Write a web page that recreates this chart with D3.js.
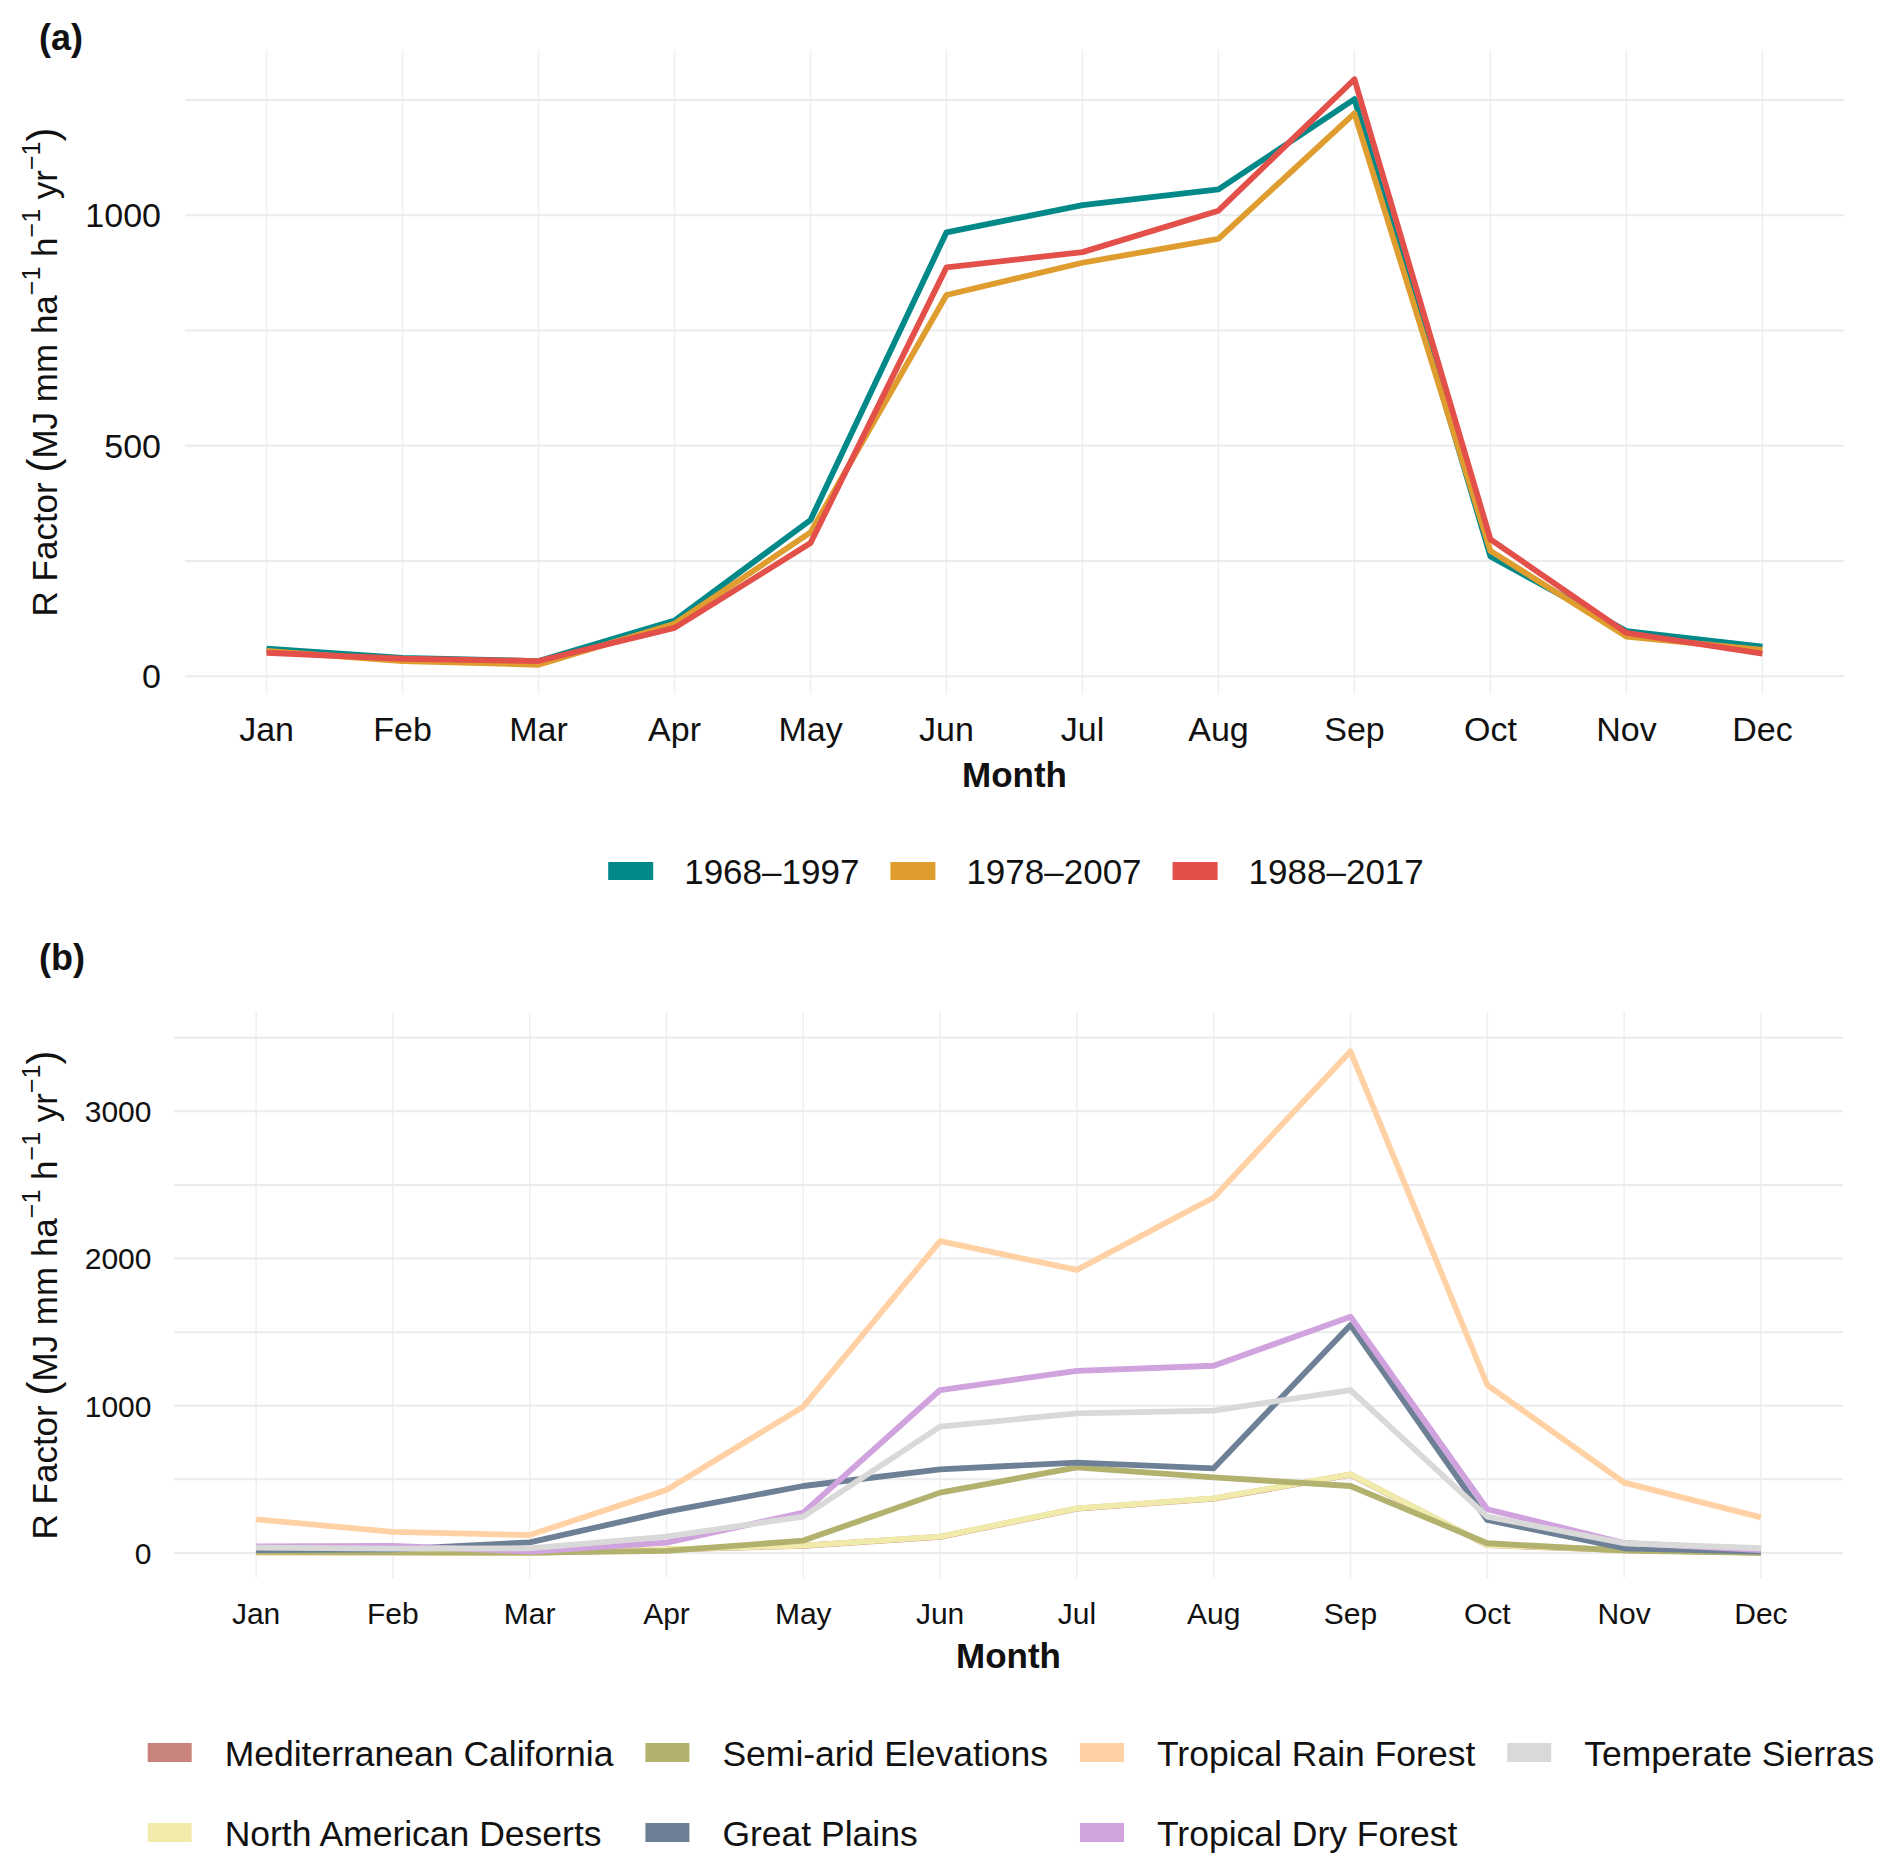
<!DOCTYPE html>
<html><head><meta charset="utf-8">
<script src="https://cdn.jsdelivr.net/npm/d3@7"></script>
<style>
html,body{margin:0;padding:0;background:#fff}
svg{display:block}
text{font-family:"Liberation Sans",Arial,Helvetica,sans-serif;fill:#111}
</style>
</head><body>
<svg id="chart" width="1892" height="1873"></svg>
<script>
// ---------- data ----------
const months = ["Jan","Feb","Mar","Apr","May","Jun","Jul","Aug","Sep","Oct","Nov","Dec"];

// panel (a): 30-year periods
const periods = ["1968–1997","1978–2007","1988–2017"];
const r1968_1997 = [60, 40, 33, 121, 339, 963, 1022, 1056, 1252, 260, 98, 64];
const r1978_2007 = [55, 33, 25, 114, 312, 827, 897, 949, 1221, 272, 86, 57];
const r1988_2017 = [51, 38, 33, 105, 289, 887, 920, 1010, 1295, 297, 94, 49];
const periodColors = ["#01898A", "#DF9D2F", "#E3504A"];
const yTicksA = [0, 500, 1000];
const yGridA = [0, 250, 500, 750, 1000, 1250];
const yLimitsA = [-38.5, 1358.5];

// panel (b): ecoregions (factor / drawing order)
const regions = ["Mediterranean California","North American Deserts","Semi-arid Elevations","Great Plains","Tropical Rain Forest","Tropical Dry Forest","Temperate Sierras"];
const medCalifornia   = [4, 3, 1, 23, 49, 109, 301, 369, 532, 53, 19, 2];
const naDeserts       = [2, 2, 0, 25, 50, 111, 303, 371, 534, 54, 20, 2];
const semiAridElev    = [7, 6, 2, 14, 84, 410, 582, 514, 455, 66, 16, 0];
const greatPlains     = [20, 25, 72, 281, 455, 568, 614, 575, 1548, 224, 32, 9];
const tropRainForest  = [229, 143, 122, 428, 994, 2118, 1923, 2415, 3408, 1141, 478, 242];
const tropDryForest   = [45, 48, 10, 70, 274, 1107, 1237, 1272, 1605, 297, 68, 20];
const tempSierras     = [36, 29, 32, 111, 247, 858, 949, 967, 1107, 247, 66, 32];
const regionColors = ["#C8837D","#F0EBAA","#B2B26E","#6D8096","#FFD1A4","#D0A2DE","#D9D9D9"];
const yTicksB = [0, 1000, 2000, 3000];
const yGridB = [0, 500, 1000, 1500, 2000, 2500, 3000, 3500];
const yLimitsB = [-170, 3675];

const seriesA = [r1968_1997, r1978_2007, r1988_2017];
const seriesB = [medCalifornia, naDeserts, semiAridElev, greatPlains, tropRainForest, tropDryForest, tempSierras];

// ---------- drawing ----------
const svg = d3.select("#chart");
svg.append("rect").attr("width",1892).attr("height",1873).attr("fill","#fff");

function yTitle(cx, cy){
  const t = svg.append("text")
    .attr("transform",`translate(${cx},${cy}) rotate(-90)`)
    .attr("text-anchor","middle").style("font-size","35px");
  t.append("tspan").text("R Factor ");
  t.append("tspan").style("font-size","42px").text("(");
  t.append("tspan").text("MJ mm ha");
  t.append("tspan").attr("dy",-17).style("font-size","25px").text("−1");
  t.append("tspan").attr("dy",17).text(" h");
  t.append("tspan").attr("dy",-17).style("font-size","25px").text("−1");
  t.append("tspan").attr("dy",17).text(" yr");
  t.append("tspan").attr("dy",-17).style("font-size","25px").text("−1");
  t.append("tspan").attr("dy",17).style("font-size","42px").text(")");
}

function panel(o){
  const x = d3.scalePoint().domain(months).range([o.left, o.right]).padding(0.6);
  const y = d3.scaleLinear().domain(o.yLimits).range([o.bottom, o.top]);
  const g = svg.append("g");
  // grid
  g.selectAll(".vg").data(months).join("line")
    .attr("x1",d=>x(d)).attr("x2",d=>x(d)).attr("y1",o.top).attr("y2",o.bottom)
    .attr("stroke","#EFEFEF").attr("stroke-width",1.5);
  g.selectAll(".hg").data(o.yGrid).join("line")
    .attr("x1",o.left).attr("x2",o.right).attr("y1",d=>y(d)).attr("y2",d=>y(d))
    .attr("stroke","#EBEBEB").attr("stroke-width",2);
  // lines
  const line = d3.line().x((d,i)=>x(months[i])).y(d=>y(d));
  g.selectAll(".ln").data(o.series).join("path")
    .attr("d",d=>line(d)).attr("fill","none")
    .attr("stroke",(d,i)=>o.colors[i]).attr("stroke-width",5.8)
    .attr("stroke-linejoin","round").attr("stroke-linecap","butt");
  // y tick labels
  g.selectAll(".yt").data(o.yTicks).join("text")
    .attr("x",o.yLabelRight).attr("y",d=>y(d)+0.358*o.tickFont)
    .attr("text-anchor","end").style("font-size",o.tickFont+"px").text(d=>d);
  // x tick labels
  g.selectAll(".xt").data(months).join("text")
    .attr("x",d=>x(d)).attr("y",o.xLabelBase)
    .attr("text-anchor","middle").style("font-size",o.tickFont+"px").text(d=>d);
  // x title
  g.append("text").attr("x",(o.left+o.right)/2).attr("y",o.xTitleBase)
    .attr("text-anchor","middle").style("font-size","35px").style("font-weight","bold").text("Month");
  // panel tag
  g.append("text").attr("x",39).attr("y",o.tagBase).style("font-size","36px")
    .style("font-weight","bold").text(o.tag);
  yTitle(57, (o.top+o.bottom)/2);
}

panel({left:185,right:1844,top:50,bottom:694,yLimits:yLimitsA,yGrid:yGridA,yTicks:yTicksA,
  series:seriesA,colors:periodColors,tickFont:34,yLabelRight:161,xLabelBase:741,xTitleBase:787,tag:"(a)",tagBase:50});
panel({left:174,right:1843,top:1012,bottom:1578,yLimits:yLimitsB,yGrid:yGridB,yTicks:yTicksB,
  series:seriesB,colors:regionColors,tickFont:30,yLabelRight:151.5,xLabelBase:1624,xTitleBase:1668,tag:"(b)",tagBase:970});

// legend (a): single row
(function(){
  const g = svg.append("g");
  const keyW=45, keyH=18, gap1=31, gap2=31, fs=35;
  const items = periods.map((p,i)=>({label:p,color:periodColors[i]}));
  const tmp = g.append("text").style("font-size",fs+"px");
  items.forEach(it=>{ tmp.text(it.label); it.w = tmp.node().getComputedTextLength(); });
  tmp.remove();
  const total = d3.sum(items,d=>keyW+gap1+d.w) + gap2*(items.length-1);
  let xx = 1016 - total/2;
  items.forEach(it=>{
    g.append("rect").attr("x",xx).attr("y",862).attr("width",keyW).attr("height",keyH).attr("fill",it.color);
    g.append("text").attr("x",xx+keyW+gap1).attr("y",884).style("font-size",fs+"px").text(it.label);
    xx += keyW+gap1+it.w+gap2;
  });
})();

// legend (b): 2 rows, filled by column
(function(){
  const g = svg.append("g");
  const keyW=44, keyH=19, gap1=33, gap2=32, fs=35.5;
  const rowKeyY=[1743,1823], rowBase=[1766,1846];
  const tmp = g.append("text").style("font-size",fs+"px");
  const widths = regions.map(r=>{ tmp.text(r); return tmp.node().getComputedTextLength(); });
  tmp.remove();
  const nCol = Math.ceil(regions.length/2);
  const colW = d3.range(nCol).map(c=>d3.max([widths[2*c], widths[2*c+1]||0]));
  const total = d3.sum(colW,w=>keyW+gap1+w) + gap2*(nCol-1);
  let xx = 1011 - total/2;
  d3.range(nCol).forEach(c=>{
    [0,1].forEach(r=>{
      const k = 2*c+r; if(k>=regions.length) return;
      g.append("rect").attr("x",xx).attr("y",rowKeyY[r]).attr("width",keyW).attr("height",keyH).attr("fill",regionColors[k]);
      g.append("text").attr("x",xx+keyW+gap1).attr("y",rowBase[r]).style("font-size",fs+"px").text(regions[k]);
    });
    xx += keyW+gap1+colW[c]+gap2;
  });
})();
</script>
</body></html>
